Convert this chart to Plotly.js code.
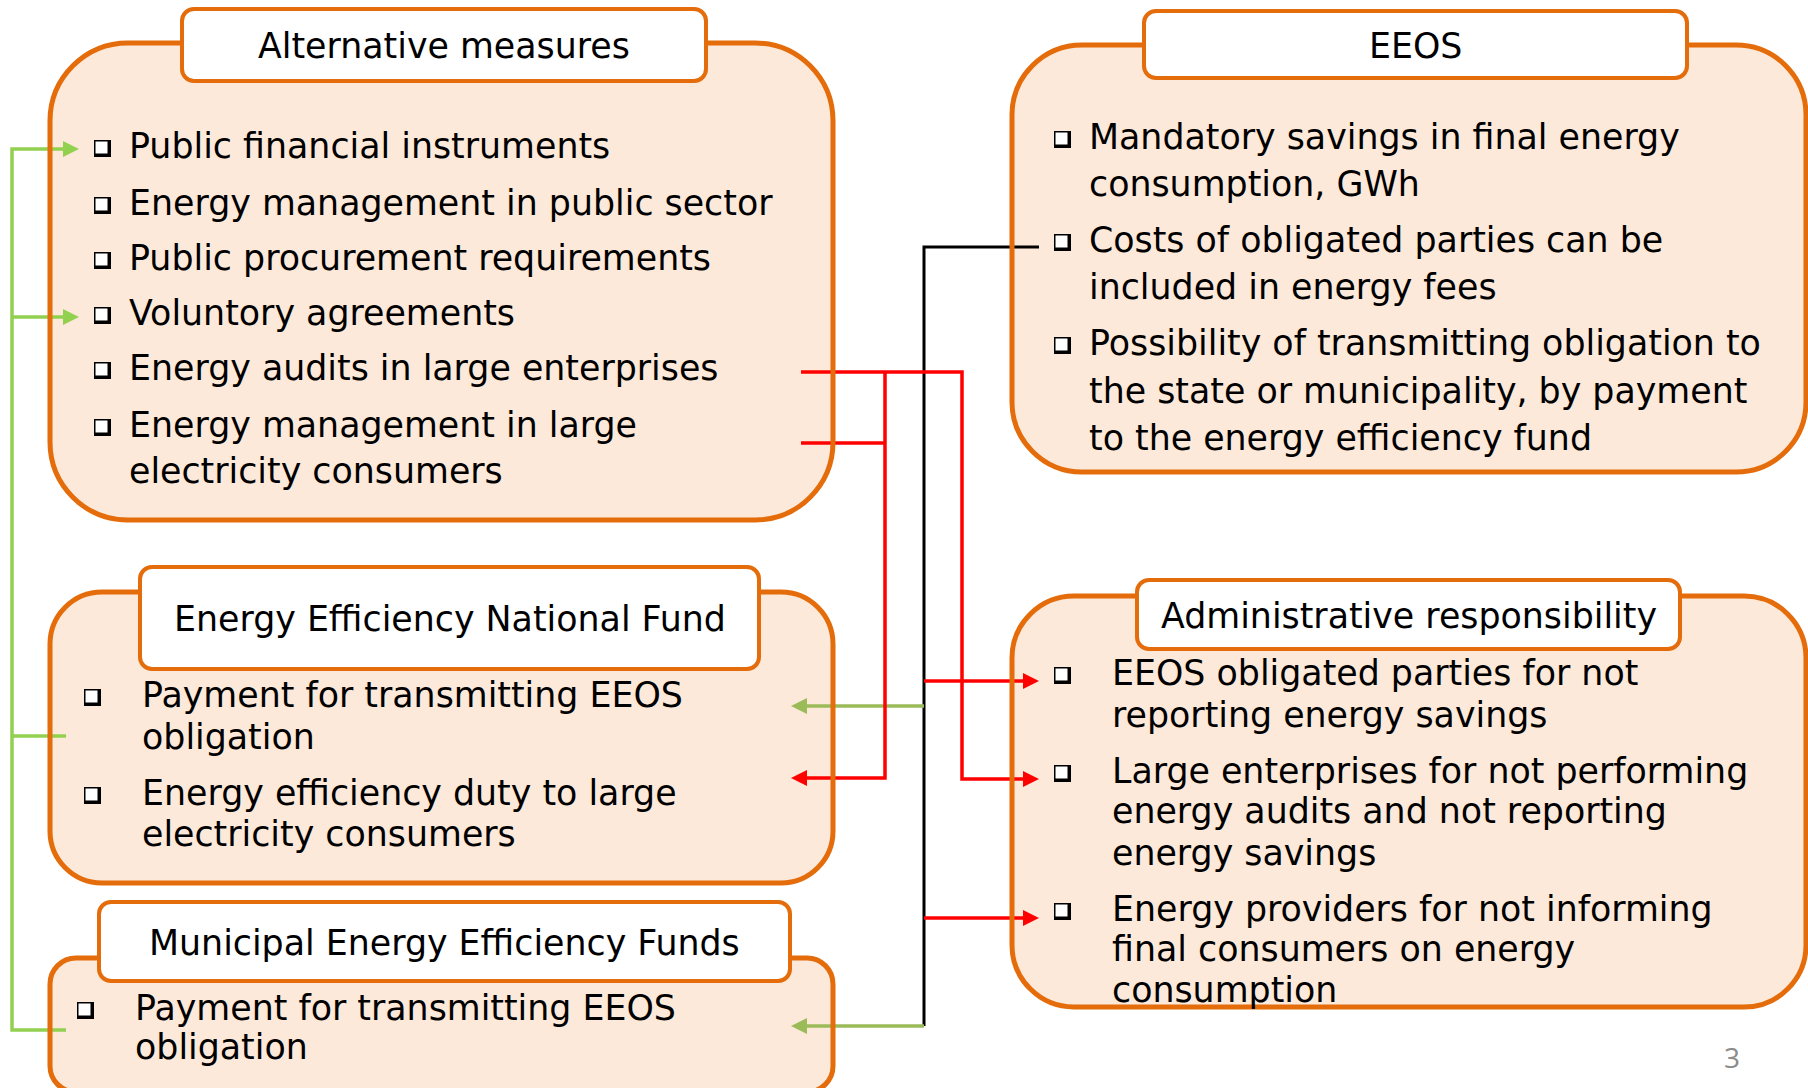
<!DOCTYPE html>
<html><head><meta charset="utf-8">
<script src="https://cdn.plot.ly/plotly-3.0.1.min.js"></script>
<style>html,body{margin:0;padding:0;background:#fff;overflow:hidden}#chart{width:1808px;height:1088px}</style>
</head><body><div id="chart"></div>
<script>
// ---------- content ----------
const boxTitles = [
  "Alternative measures",
  "EEOS",
  "Energy Efficiency National Fund",
  "Municipal Energy Efficiency Funds",
  "Administrative responsibility"
];
const alternativeMeasures = [
  ["Public financial instruments"],
  ["Energy management in public sector"],
  ["Public procurement requirements"],
  ["Voluntory agreements"],
  ["Energy audits in large enterprises"],
  ["Energy management in large", "electricity consumers"]
];
const eeosItems = [
  ["Mandatory savings in final energy", "consumption, GWh"],
  ["Costs of obligated parties can be", "included in energy fees"],
  ["Possibility of transmitting obligation to", "the state or municipality, by payment", "to the energy efficiency fund"]
];
const nationalFundItems = [
  ["Payment for transmitting EEOS", "obligation"],
  ["Energy efficiency duty to large", "electricity consumers"]
];
const municipalFundItems = [
  ["Payment for transmitting EEOS", "obligation"]
];
const adminItems = [
  ["EEOS obligated parties for not", "reporting energy savings"],
  ["Large enterprises for not performing", "energy audits and not reporting", "energy savings"],
  ["Energy providers for not informing", "final consumers on energy", "consumption"]
];
const pageNumber = "3";

// ---------- styles / geometry ----------
const ORANGE = '#E46C0A', FILL = '#FDE9D9', GREEN = '#92D050', OLIVE = '#9BBB59', RED = '#FF0000', BLACK = '#000000';
const FONT = 'DejaVu Sans, Verdana, sans-serif';
const FS = 34.8;

const boxes = [
  {title: boxTitles[0], items: alternativeMeasures, rect: [50, 43, 833, 520], r: 78,
   head: [182, 9, 706, 81], bulletX: 103, textX: 126.5,
   lineY: [[146], [203], [258], [313], [368], [425, 471]]},
  {title: boxTitles[1], items: eeosItems, rect: [1012, 45, 1806, 472], r: 70,
   head: [1144, 11, 1687, 78], bulletX: 1063, textX: 1086.5,
   lineY: [[137, 184], [240, 287], [343, 391, 438]]},
  {title: boxTitles[2], items: nationalFundItems, rect: [50, 592, 833, 883], r: 52,
   head: [140, 567, 759, 669], bulletX: 93, textX: 139.5,
   lineY: [[695, 737], [793, 834]]},
  {title: boxTitles[3], items: municipalFundItems, rect: [50, 958, 833, 1092], r: 26,
   head: [99, 902, 790, 981], bulletX: 86, textX: 132.5,
   lineY: [[1008, 1047]]},
  {title: boxTitles[4], items: adminItems, rect: [1012, 596, 1806, 1007], r: 62,
   head: [1137, 580, 1680, 649], bulletX: 1063, textX: 1109.5,
   lineY: [[673, 715], [771, 811, 853], [909, 949, 990]]}
];

// connector polylines
const connectors = [
  {c: GREEN, p: [[64, 149], [12, 149], [12, 1030], [66, 1030]]},
  {c: GREEN, p: [[12, 317], [64, 317]]},
  {c: GREEN, p: [[12, 736], [66, 736]]},
  {c: BLACK, p: [[1039, 247], [924, 247], [924, 1026]], w: 3},
  {c: OLIVE, p: [[924, 706], [805, 706]]},
  {c: OLIVE, p: [[924, 1026], [805, 1026]]},
  {c: RED, p: [[801, 372], [962, 372], [962, 779], [1026, 779]]},
  {c: RED, p: [[801, 443], [885, 443]]},
  {c: RED, p: [[885, 372], [885, 778], [805, 778]]},
  {c: RED, p: [[924, 681], [1026, 681]]},
  {c: RED, p: [[924, 918], [1026, 918]]}
];
// arrowheads: tip point, direction, color
const arrows = [
  {c: GREEN, tip: [79, 149], d: 1},
  {c: GREEN, tip: [79, 317], d: 1},
  {c: OLIVE, tip: [791, 706], d: -1},
  {c: OLIVE, tip: [791, 1026], d: -1},
  {c: RED, tip: [791, 778], d: -1},
  {c: RED, tip: [1039, 779], d: 1},
  {c: RED, tip: [1039, 681], d: 1},
  {c: RED, tip: [1039, 918], d: 1}
];

function rrect(x0, y0, x1, y1, r) {
  const k = 0.5523 * r;
  return `M ${x0 + r},${y0} L ${x1 - r},${y0} C ${x1 - r + k},${y0} ${x1},${y0 + r - k} ${x1},${y0 + r} ` +
    `L ${x1},${y1 - r} C ${x1},${y1 - r + k} ${x1 - r + k},${y1} ${x1 - r},${y1} ` +
    `L ${x0 + r},${y1} C ${x0 + r - k},${y1} ${x0},${y1 - r + k} ${x0},${y1 - r} ` +
    `L ${x0},${y0 + r} C ${x0},${y0 + r - k} ${x0 + r - k},${y0} ${x0 + r},${y0} Z`;
}

const shapes = [];
const annotations = [];

// box fills
boxes.forEach(b => {
  shapes.push({type: 'path', xref: 'x', yref: 'y', path: rrect(...b.rect, b.r),
    fillcolor: FILL, line: {width: 0}});
});
// connectors
connectors.forEach(cn => {
  shapes.push({type: 'path', xref: 'x', yref: 'y',
    path: 'M ' + cn.p.map(q => q.join(',')).join(' L '),
    fillcolor: 'rgba(0,0,0,0)', line: {color: cn.c, width: cn.w || 3.5}});
});
arrows.forEach(a => {
  const [tx, ty] = a.tip;
  const bx = tx - a.d * 16;
  shapes.push({type: 'path', xref: 'x', yref: 'y',
    path: `M ${tx},${ty} L ${bx},${ty - 8} L ${bx},${ty + 8} Z`,
    fillcolor: a.c, line: {width: 0}});
});
// box outlines + headers + bullets + text
boxes.forEach(b => {
  shapes.push({type: 'path', xref: 'x', yref: 'y', path: rrect(...b.rect, b.r),
    fillcolor: 'rgba(0,0,0,0)', line: {color: ORANGE, width: 5}});
  shapes.push({type: 'path', xref: 'x', yref: 'y', path: rrect(...b.head, 12),
    fillcolor: '#FFFFFF', line: {color: ORANGE, width: 4}});
  annotations.push({xref: 'x', yref: 'y', x: (b.head[0] + b.head[2]) / 2, y: (b.head[1] + b.head[3]) / 2 + 1,
    text: b.title, showarrow: false, xanchor: 'center', yanchor: 'middle',
    font: {family: FONT, size: FS, color: '#000'}});
  b.items.forEach((lines, i) => {
    const ys = b.lineY[i];
    const ly = ys[0], cx = b.bulletX;
    shapes.push({type: 'rect', xref: 'x', yref: 'y', x0: cx - 9, x1: cx + 8, y0: ly - 6, y1: ly + 11,
      fillcolor: '#000', line: {width: 0}});
    shapes.push({type: 'rect', xref: 'x', yref: 'y', x0: cx - 7.5, x1: cx + 4.5, y0: ly - 4.5, y1: ly + 7.5,
      fillcolor: '#FFFFFF', line: {width: 0}});
    lines.forEach((t, j) => {
      annotations.push({xref: 'x', yref: 'y', x: b.textX, y: ys[j], text: t, showarrow: false,
        xanchor: 'left', yanchor: 'middle', font: {family: FONT, size: FS, color: '#000'}});
    });
  });
});
annotations.push({xref: 'x', yref: 'y', x: 1732, y: 1057, text: pageNumber, showarrow: false,
  xanchor: 'center', yanchor: 'middle', font: {family: 'Open Sans, sans-serif', size: 28, color: '#8C8C8C'}});

const layout = {
  width: 1808, height: 1088,
  margin: {l: 0, r: 0, t: 0, b: 0, pad: 0},
  paper_bgcolor: '#FFFFFF', plot_bgcolor: '#FFFFFF',
  xaxis: {range: [0, 1808], visible: false, fixedrange: true},
  yaxis: {range: [1088, 0], visible: false, fixedrange: true},
  showlegend: false,
  shapes: shapes,
  annotations: annotations
};
Plotly.newPlot('chart', [], layout, {displayModeBar: false, staticPlot: true});
</script>
</body></html>
